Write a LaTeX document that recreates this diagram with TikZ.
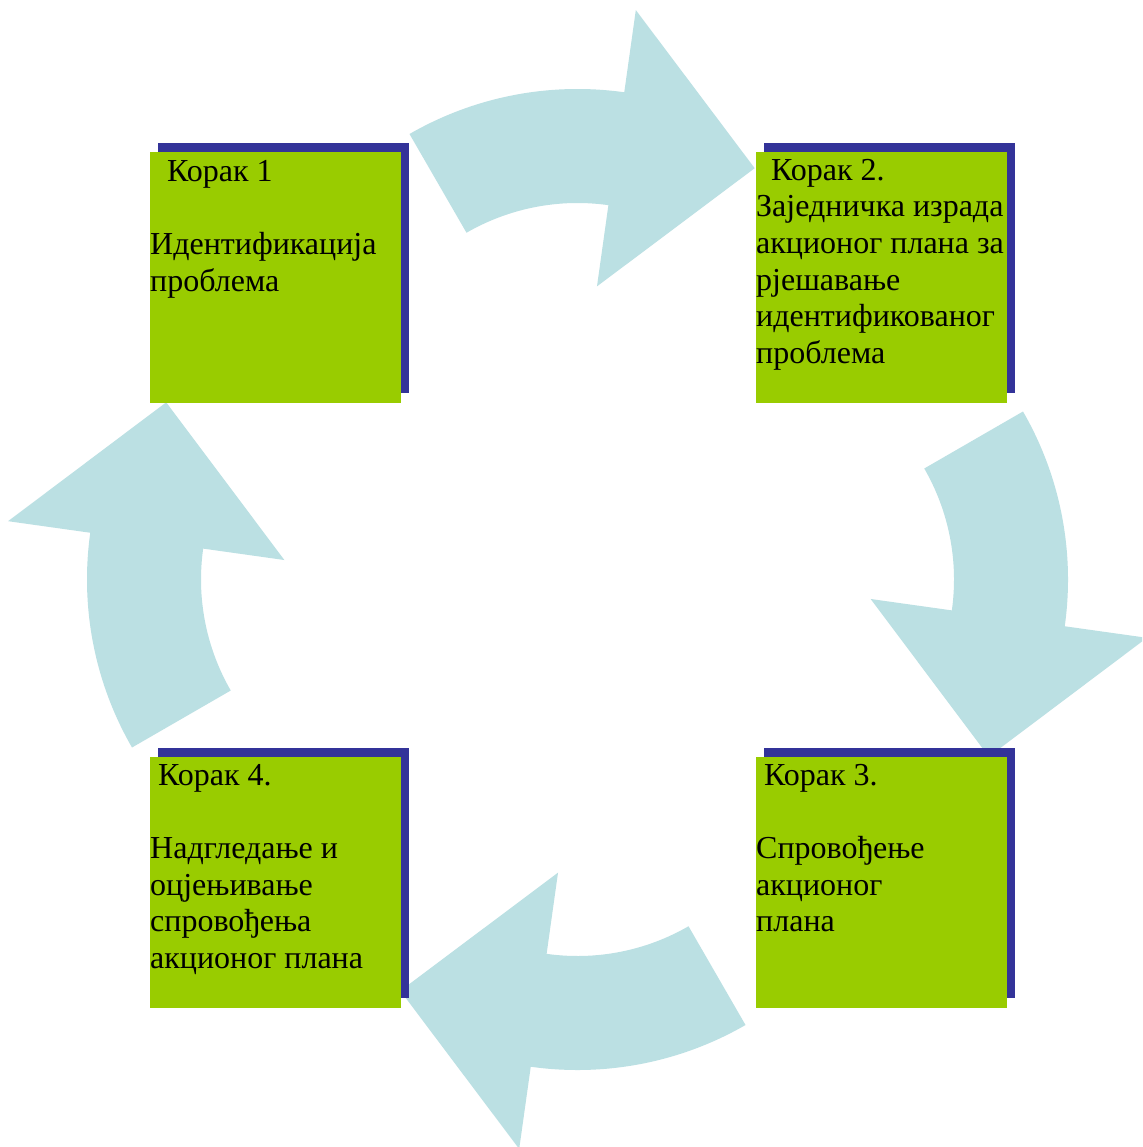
\documentclass[tikz,border=0pt]{standalone}
\usepackage{fontspec}
\setmainfont{Liberation Serif}
\definecolor{boxgreen}{HTML}{99CC00}
\definecolor{boxshadow}{HTML}{333399}
\definecolor{arrowblue}{HTML}{BBE0E3}
\tikzset{
  greenbox/.style={fill=boxgreen, draw=none, minimum width=251pt, minimum height=251pt, inner sep=0pt, anchor=north west},
  shadowbox/.style={fill=boxshadow, draw=none, minimum width=251pt, minimum height=250pt, inner sep=0pt, anchor=north west},
  steptext/.style={anchor=north west, inner sep=0pt, align=left, font=\fontsize{32}{36.6}\selectfont},
  arrowfill/.style={fill=arrowblue, draw=none},
  pics/cyclearrow/.style={code={
    \path[arrowfill] ([shift={(0,154.5)}]120:336pt) arc[start angle=120, end angle=82, radius=336pt]
      -- ([shift={(0,154.5)}]82:419pt) -- ([shift={(0,154.5)}]55.4:312pt)
      -- ([shift={(0,154.5)}]82:140pt) -- ([shift={(0,154.5)}]82:222pt)
      arc[start angle=82, end angle=120, radius=222pt] -- cycle;
  }}
}
\begin{document}
\begin{tikzpicture}[x=1pt,y=1pt]
\useasboundingbox (0,0) rectangle (1142,-1147);
\clip (0,0) rectangle (1142,-1147);
\fill[white] (0,0) rectangle (1142,-1147);
% arrows
\pic[shift={(577.5,-579.5)}, rotate=0] (atop) {cyclearrow};
\pic[shift={(577.5,-579.5)}, rotate=-90] (aright) {cyclearrow};
\pic[shift={(577.5,-579.5)}, rotate=180] (abottom) {cyclearrow};
\pic[shift={(577.5,-579.5)}, rotate=90] (aleft) {cyclearrow};
% shadows
\node[shadowbox] (s1) at (158,-143) {};
\node[shadowbox] (s2) at (764,-143) {};
\node[shadowbox] (s3) at (764,-748) {};
\node[shadowbox] (s4) at (158,-748) {};
% green boxes
\node[greenbox] (b1) at (150,-152) {};
\node[greenbox] (b2) at (756,-152) {};
\node[greenbox] (b3) at (756,-757) {};
\node[greenbox] (b4) at (150,-757) {};
% texts
\node[steptext] (t1) at (150,-155.4) {\strut\hspace*{17pt}Корак 1\\[36.6pt]Идентификација\\проблема};
\node[steptext] (t2) at (756,-154.4) {\strut\hspace*{15pt}Корак 2.\\Заједничка израда\\акционог плана за\\рјешавање\\идентификованог\\проблема};
\node[steptext] (t3) at (756,-759.4) {\strut\hspace*{8pt}Корак 3.\\[36.6pt]Спровођење\\акционог\\плана};
\node[steptext] (t4) at (150,-759.4) {\strut\hspace*{8pt}Корак 4.\\[36.6pt]Надгледање и\\оцјењивање\\спровођења\\акционог плана};
\end{tikzpicture}
\end{document}
